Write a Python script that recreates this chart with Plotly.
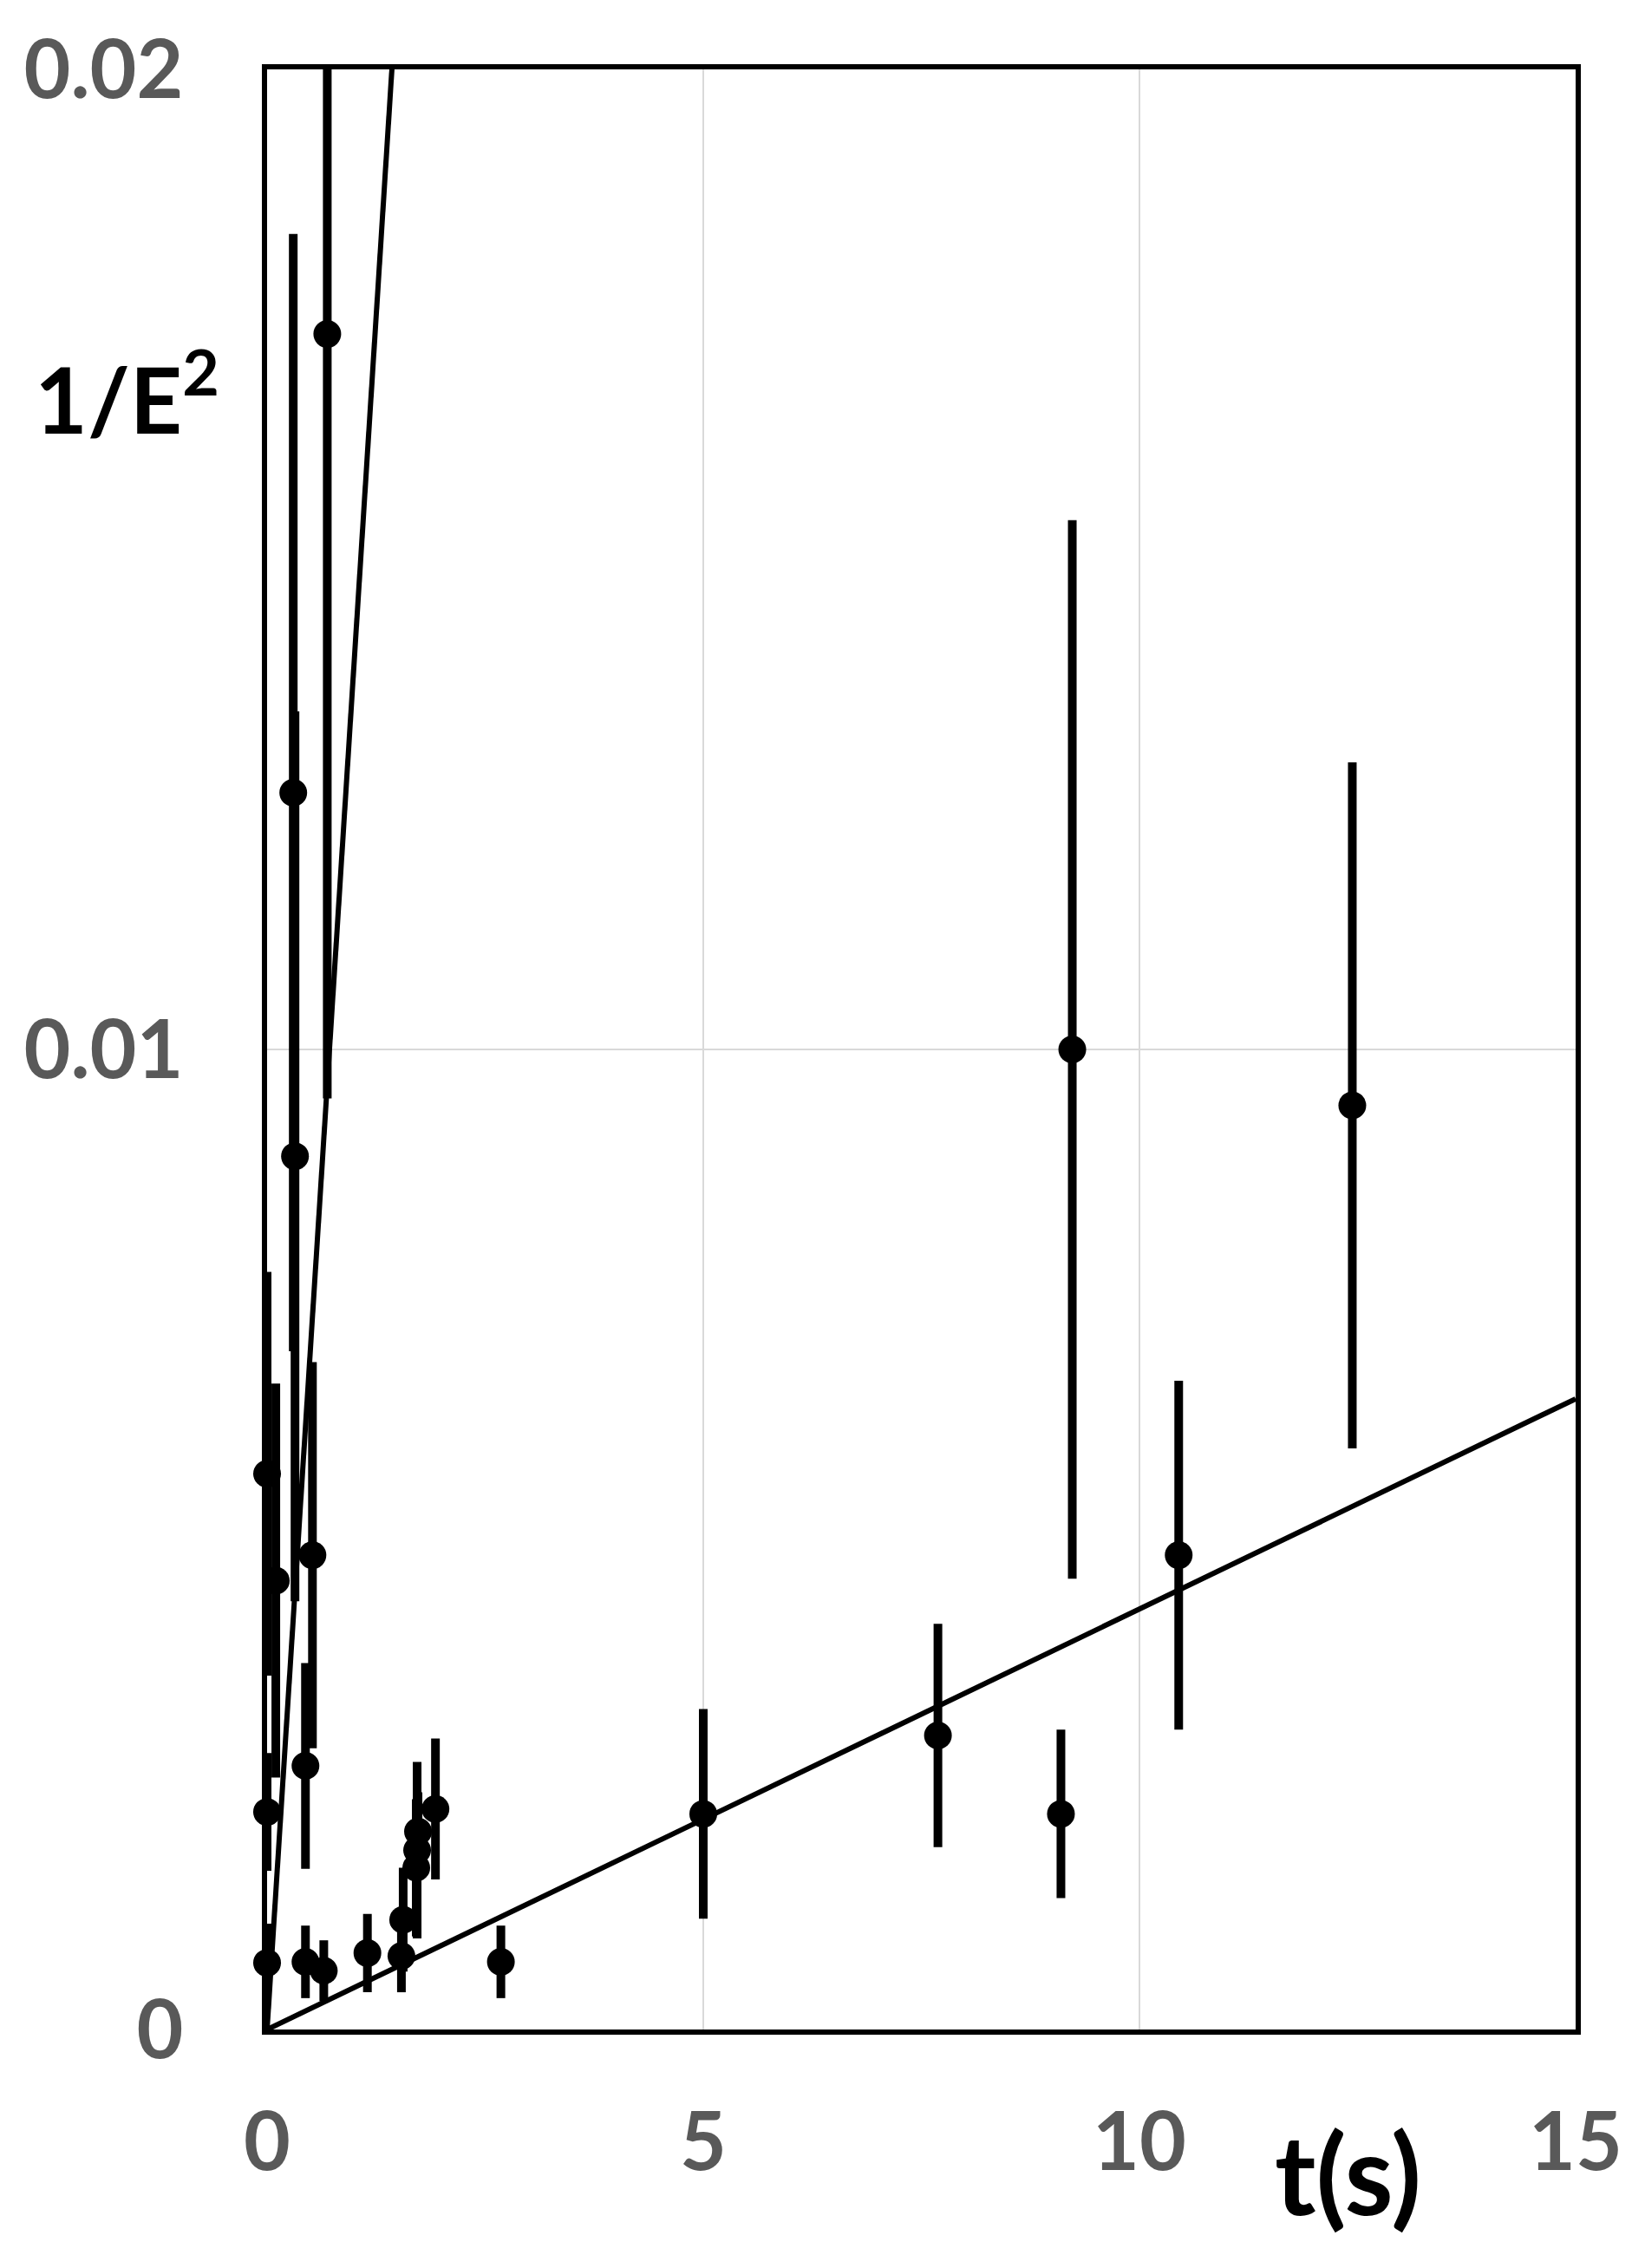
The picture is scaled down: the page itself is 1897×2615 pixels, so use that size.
import plotly.graph_objects as go

# ---- data ----
t_s = [0.00, 0.10, 0.00, 0.00, 0.30, 0.32, 0.69, 0.52, 0.44, 0.44, 0.65, 1.15,
       1.54, 1.56, 1.71, 1.72, 1.73, 1.93, 2.68, 5.00, 7.69, 9.10, 9.23, 10.45, 12.44]
inv_e2 = [0.00567, 0.00458, 0.00222, 0.00068, 0.01262, 0.00891, 0.01730, 0.00484,
          0.00269, 0.00069, 0.00060, 0.00078, 0.00075, 0.00112, 0.00165, 0.00183,
          0.00202, 0.00225, 0.00069, 0.00220, 0.00300, 0.00220, 0.01000, 0.00484, 0.00943]
err = [0.00206, 0.00201, 0.00060, 0.00040, 0.00570, 0.00454, 0.00780, 0.00197,
       0.00105, 0.00037, 0.00031, 0.00040, 0.00037, 0.00053, 0.00070, 0.00090,
       0.00040, 0.00072, 0.00037, 0.00107, 0.00114, 0.00086, 0.00540, 0.00178, 0.00350]

fit_slopes = [0.01398, 0.000429]   # two straight-line fits through the origin

x_ticks = [0, 5, 10, 15]
x_labels = ["0", "5", "10", "15"]
y_ticks = [0, 0.01, 0.02]
y_labels = ["0", "0.01", "0.02"]
x_range = [0, 15]
y_range = [0, 0.02]

# ---- figure ----
fig = go.Figure()

# fit lines (clipped to the plot area)
for s in fit_slopes:
    x_end = min(x_range[1], 1.1 * y_range[1] / s)
    fig.add_trace(go.Scatter(
        x=[0, x_end], y=[0, s * x_end], mode="lines",
        line=dict(color="black", width=6), cliponaxis=True,
        showlegend=False, hoverinfo="skip"))

inside = [i for i in range(len(t_s)) if inv_e2[i] + err[i] <= y_range[1]]
outside = [i for i in range(len(t_s)) if inv_e2[i] + err[i] > y_range[1]]

for idx, clip in ((inside, False), (outside, True)):
    fig.add_trace(go.Scatter(
        x=[t_s[i] for i in idx], y=[inv_e2[i] for i in idx],
        mode="markers",
        marker=dict(color="black", size=32),
        error_y=dict(type="data", array=[err[i] for i in idx], visible=True,
                     color="black", thickness=10, width=0),
        cliponaxis=clip, showlegend=False))

tick_font = dict(family="Lato", size=93, color="#595959", weight="bold")

fig.update_xaxes(range=x_range, tickvals=x_ticks, ticktext=x_labels,
                 showline=True, mirror=True, linecolor="black", linewidth=6,
                 showgrid=True, gridcolor="#d9d9d9", gridwidth=2, zeroline=False,
                 ticks="", tickfont=tick_font, ticklabelstandoff=44,
                 automargin=False)
fig.update_yaxes(range=y_range, tickvals=y_ticks, ticktext=y_labels,
                 showline=True, mirror=True, linecolor="black", linewidth=6,
                 showgrid=True, gridcolor="#d9d9d9", gridwidth=2, zeroline=False,
                 ticks="", tickfont=tick_font, ticklabelstandoff=72,
                 automargin=False)

fig.add_annotation(text="1/E<sup>2</sup>", xref="paper", yref="paper",
                   x=-0.107, y=0.835, xanchor="center", yanchor="middle",
                   showarrow=False,
                   font=dict(family="Lato", size=105, color="black", weight="bold"))
fig.add_annotation(text="t(s)", xref="paper", yref="paper",
                   x=0.826, y=-0.073, xanchor="center", yanchor="middle",
                   showarrow=False,
                   font=dict(family="Lato", size=128, color="black", weight="bold"))

fig.update_layout(width=1897, height=2615, plot_bgcolor="white",
                  paper_bgcolor="white",
                  margin=dict(l=300, r=88, t=72, b=283))

fig.write_html("out.html")
